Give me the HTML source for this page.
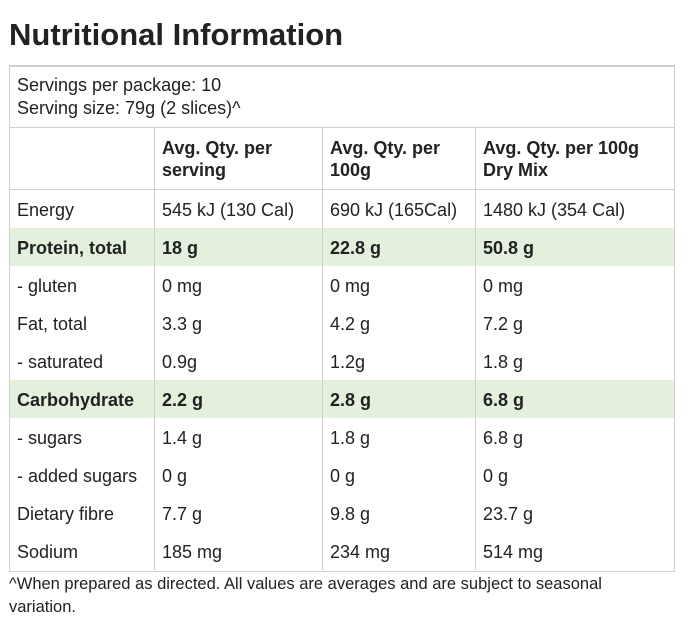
<!DOCTYPE html>
<html><head><style>
body{margin:0;width:688px;height:629px;background:#fff;font-family:"Liberation Sans",sans-serif;color:#222;position:relative;overflow:hidden}
.t{position:absolute;white-space:nowrap;font-size:18px;line-height:22px}
.b{font-weight:bold}
.h{position:absolute;left:10px;width:664px;height:38px;background:#e3f0dc}
.v{position:absolute;width:1px;background:#d0d0d0}
.hl{position:absolute;height:1px;background:#d0d0d0}
</style></head><body>
<div class="t b" style="left:9px;top:17px;font-size:31px;line-height:36px;color:#222">Nutritional Information</div>
<div style="position:absolute;left:9px;top:65px;width:664px;height:504px;border:1px solid #d0d0d0;border-top:2px solid #d0d0d0"></div>
<div class="h" style="top:228px"></div>
<div class="h" style="top:380px"></div>
<div class="hl" style="left:10px;width:664px;top:127px"></div>
<div class="hl" style="left:10px;width:664px;top:189px"></div>
<div class="v" style="left:154px;top:128px;height:442px"></div>
<div class="v" style="left:322px;top:128px;height:442px"></div>
<div class="v" style="left:475px;top:128px;height:442px"></div>
<div class="t" style="left:17px;top:74px">Servings per package: 10</div>
<div class="t" style="left:17px;top:97px">Serving size: 79g (2 slices)^</div>
<div class="t b" style="left:162px;top:137px">Avg. Qty. per<br>serving</div>
<div class="t b" style="left:330px;top:137px">Avg. Qty. per<br>100g</div>
<div class="t b" style="left:483px;top:137px">Avg. Qty. per 100g<br>Dry Mix</div>
<div id="rows"></div>
<script>
var d=[["Energy","545 kJ (130 Cal)","690 kJ (165Cal)","1480 kJ (354 Cal)",0],
["Protein, total","18 g","22.8 g","50.8 g",1],
["- gluten","0 mg","0 mg","0 mg",0],
["Fat, total","3.3 g","4.2 g","7.2 g",0],
["- saturated","0.9g","1.2g","1.8 g",0],
["Carbohydrate","2.2 g","2.8 g","6.8 g",1],
["- sugars","1.4 g","1.8 g","6.8 g",0],
["- added sugars","0 g","0 g","0 g",0],
["Dietary fibre","7.7 g","9.8 g","23.7 g",0],
["Sodium","185 mg","234 mg","514 mg",0]];
var xs=[17,162,330,483],h="";
d.forEach(function(r,i){var y=199+i*38;for(var j=0;j<4;j++)h+='<div class="t'+(r[4]?' b':'')+'" style="left:'+xs[j]+'px;top:'+y+'px">'+r[j]+'</div>';});
document.getElementById("rows").innerHTML=h;
</script>
<div class="t" style="left:9px;top:573px;font-size:16.5px;line-height:23px">^When prepared as directed. All values are averages and are subject to seasonal<br>variation.</div>
</body></html>
